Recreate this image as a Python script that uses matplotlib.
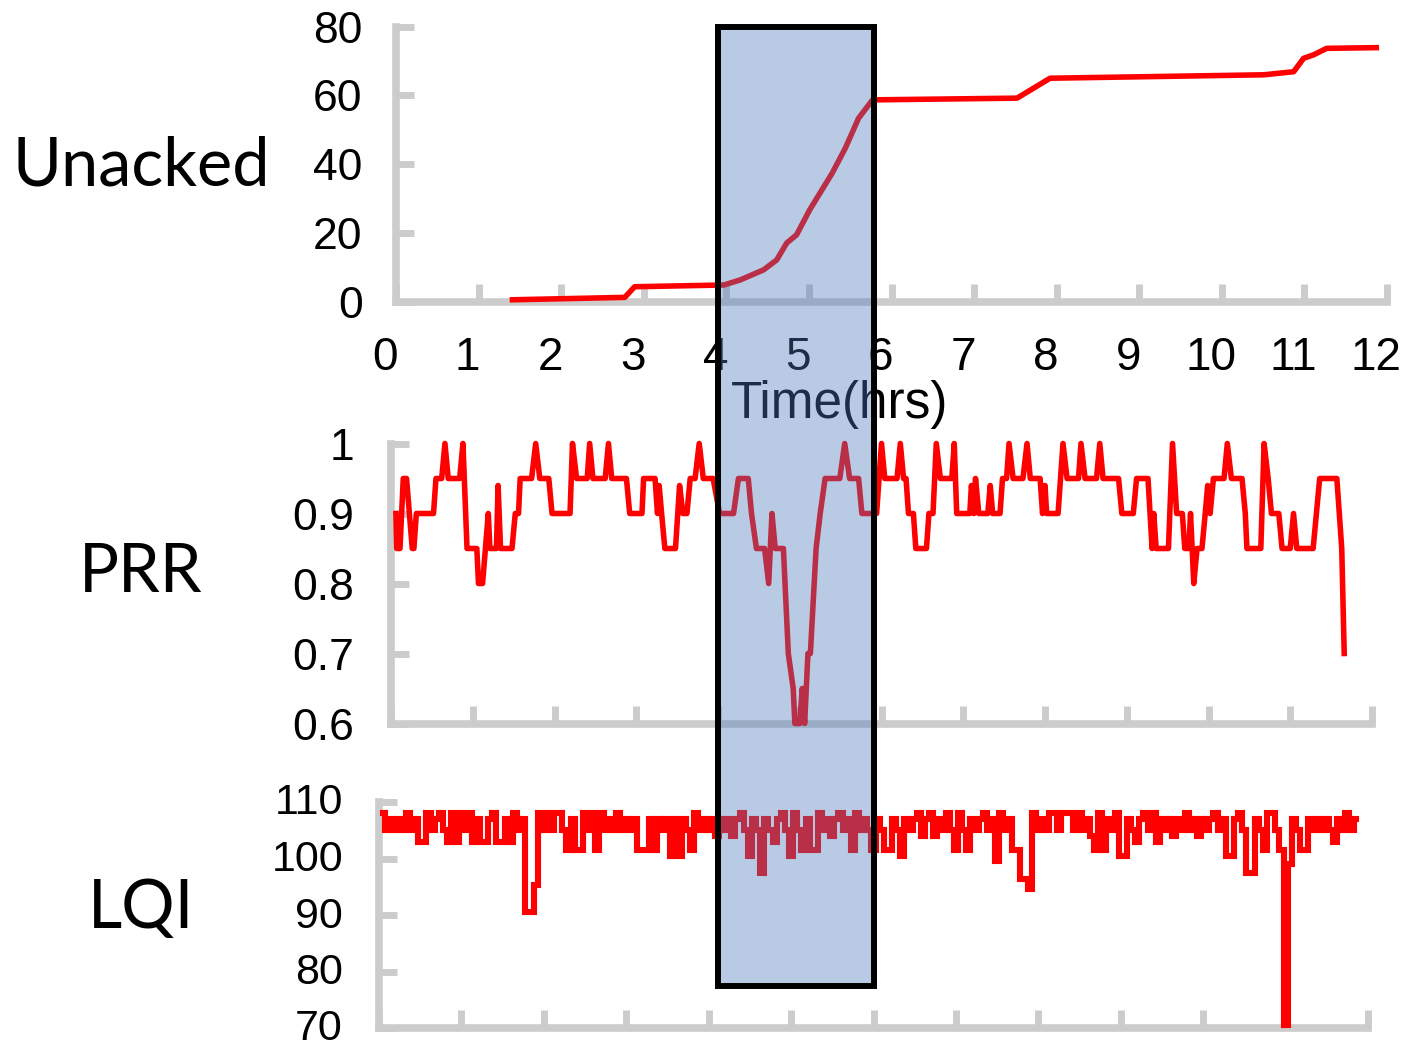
"""
plot.py
-------
Unacked / PRR / LQI over a 12 hour run, with the 4-6 h window boxed.
Writes out.png (1410x1052).
"""

import numpy as np
import matplotlib
matplotlib.use("Agg")
import matplotlib.pyplot as plt
from matplotlib.patches import Rectangle
from matplotlib.transforms import ScaledTranslation

# --- data ---------------------------------------------------------------
hours = list(range(13))

unacked_t = [1.41, 2.77, 2.89, 3.97, 4.17, 4.45, 4.61, 4.73, 4.85, 5.01, 5.28,
             5.44, 5.60, 5.77, 7.52, 7.92, 10.51, 10.87, 10.99, 11.11, 11.27, 11.87]
unacked_v = [0.5, 1.2, 4.3, 4.8, 6.3, 9.2, 12.1, 17, 19.4, 26.7, 37.3,
             44.6, 53.3, 58.7, 59.2, 65, 66, 66.9, 70.8, 71.8, 73.7, 73.9]
unacked_ticks = [0, 20, 40, 60, 80]

prr_t = [0.06, 0.07, 0.11, 0.15, 0.19, 0.26, 0.28, 0.31, 0.52, 0.55, 0.62, 0.66,
         0.70, 0.84, 0.88, 0.93, 1.05, 1.07, 1.12, 1.19, 1.21, 1.29, 1.31, 1.34,
         1.48, 1.52, 1.56, 1.58, 1.72, 1.77, 1.82, 1.93, 1.97, 2.19, 2.22, 2.27,
         2.40, 2.43, 2.47, 2.62, 2.66, 2.70, 2.88, 2.92, 3.07, 3.09, 3.23, 3.26,
         3.28, 3.31, 3.35, 3.48, 3.53, 3.57, 3.62, 3.66, 3.72, 3.77, 3.82, 3.94,
         4.02, 4.19, 4.25, 4.37, 4.41, 4.47, 4.57, 4.62, 4.66, 4.70, 4.80, 4.82,
         4.84, 4.86, 4.92, 4.94, 5.00, 5.03, 5.06, 5.10, 5.13, 5.20, 5.25, 5.31,
         5.49, 5.55, 5.61, 5.72, 5.76, 5.94, 6.00, 6.04, 6.19, 6.23, 6.27, 6.30,
         6.33, 6.39, 6.42, 6.55, 6.58, 6.63, 6.67, 6.72, 6.86, 6.89, 6.92, 7.08,
         7.10, 7.13, 7.15, 7.19, 7.30, 7.33, 7.36, 7.45, 7.48, 7.53, 7.56, 7.61,
         7.73, 7.78, 7.82, 7.94, 7.97, 8.00, 8.02, 8.16, 8.22, 8.27, 8.41, 8.44,
         8.49, 8.63, 8.67, 8.71, 8.90, 8.94, 9.08, 9.12, 9.26, 9.31, 9.33, 9.36,
         9.51, 9.56, 9.61, 9.68, 9.71, 9.76, 9.78, 9.82, 9.86, 9.92, 9.96, 9.99,
         10.02, 10.06, 10.19, 10.23, 10.28, 10.41, 10.45, 10.47, 10.64, 10.68, 10.73, 10.77,
         10.86, 10.90, 11.00, 11.04, 11.08, 11.28, 11.32, 11.36, 11.57, 11.63, 11.66]
prr_v = [0.90, 0.85, 0.85, 0.95, 0.95, 0.85, 0.85, 0.90, 0.90, 0.95, 0.95, 1.00,
         0.95, 0.95, 1.00, 0.85, 0.85, 0.80, 0.80, 0.90, 0.85, 0.85, 0.94, 0.85,
         0.85, 0.90, 0.90, 0.95, 0.95, 1.00, 0.95, 0.95, 0.90, 0.90, 1.00, 0.95,
         0.95, 1.00, 0.95, 0.95, 1.00, 0.95, 0.95, 0.90, 0.90, 0.95, 0.95, 0.90,
         0.94, 0.90, 0.85, 0.85, 0.94, 0.90, 0.90, 0.95, 0.95, 1.00, 0.95, 0.95,
         0.90, 0.90, 0.95, 0.95, 0.90, 0.85, 0.85, 0.80, 0.90, 0.85, 0.85, 0.80,
         0.75, 0.70, 0.65, 0.60, 0.60, 0.65, 0.60, 0.70, 0.70, 0.85, 0.90, 0.95,
         0.95, 1.00, 0.95, 0.95, 0.90, 0.90, 1.00, 0.95, 0.95, 1.00, 0.95, 0.95,
         0.90, 0.90, 0.85, 0.85, 0.90, 0.90, 1.00, 0.95, 0.95, 1.00, 0.90, 0.90,
         0.94, 0.90, 0.95, 0.90, 0.90, 0.94, 0.90, 0.90, 0.95, 0.95, 1.00, 0.95,
         0.95, 1.00, 0.95, 0.95, 0.90, 0.94, 0.90, 0.90, 1.00, 0.95, 0.95, 1.00,
         0.95, 0.95, 1.00, 0.95, 0.95, 0.90, 0.90, 0.95, 0.95, 0.85, 0.90, 0.85,
         0.85, 1.00, 0.90, 0.90, 0.85, 0.85, 0.90, 0.80, 0.85, 0.85, 0.90, 0.94,
         0.90, 0.95, 0.95, 1.00, 0.95, 0.95, 0.90, 0.85, 0.85, 1.00, 0.95, 0.90,
         0.90, 0.85, 0.85, 0.90, 0.85, 0.85, 0.90, 0.95, 0.95, 0.85, 0.70]
prr_ticks = [0.6, 0.7, 0.8, 0.9, 1.0]
prr_labels = ["0.6", "0.7", "0.8", "0.9", "1"]

# LQI is logged every 3 minutes
LQI_STEP_HRS = 0.05
lqi_v = [108, 105, 107, 105, 107, 105, 108, 105, 107, 103, 103, 108, 105, 107, 108, 105, 103, 108, 103, 108,
         105, 108, 103, 107, 103, 103, 107, 108, 103, 103, 107, 103, 108, 105, 107, 90.5, 90.5, 95.3, 108, 105,
         108, 105, 108, 108, 105, 101.5, 107, 101.5, 101.5, 108, 105, 108, 101.5, 108, 105, 107, 105, 108, 105, 107,
         105, 107, 101.5, 101.5, 101.5, 107, 101.5, 107, 105, 107, 100.5, 107, 100.5, 107, 105, 101.5, 108, 105, 107, 105,
         107, 104, 107, 105, 107, 104, 107, 108, 105, 100.5, 107, 105, 97.4, 107, 105, 103, 107, 108, 105, 100.5,
         108, 105, 101.5, 107, 101.5, 101.5, 108, 105, 107, 104, 107, 108, 105, 107, 101.5, 108, 105, 107, 105, 101.5,
         107, 105, 101.5, 101.5, 107, 105, 100.5, 107, 105, 107, 108, 104, 107, 108, 104, 107, 105, 108, 105, 101.5,
         108, 105, 101.5, 107, 105, 107, 108, 105, 107, 99.5, 108, 105, 107, 101.5, 101.5, 96.3, 96.3, 94.6, 108, 105,
         107, 105, 108, 108, 105, 108, 108, 108, 105, 108, 105, 107, 104, 101.5, 108, 101.5, 107, 105, 108, 100.5,
         100.5, 107, 105, 103, 107, 108, 105, 108, 103, 107, 105, 107, 104, 107, 105, 108, 105, 107, 104, 107,
         105, 107, 108, 105, 107, 100.5, 100.5, 107, 108, 105, 97.4, 97.4, 107, 105, 101.5, 108, 108, 105, 101.5, 70.5,
         99, 107, 105, 101.5, 101.5, 107, 105, 107, 105, 107, 105, 103, 107, 105, 108, 105, 107]
lqi_ticks = [70, 80, 90, 100, 110]

HIGHLIGHT_HRS = (4, 6)
HIGHLIGHT_LQI_FLOOR = 77.5

# --- styling -------------------------------------------------------------
RED = "#ff0000"
GRAY = "#cccccc"
BOX_FILL = (76 / 255, 123 / 255, 186 / 255, 0.39)

plt.rcParams["font.family"] = ["Liberation Sans", "DejaVu Sans"]
LABEL_FONT = ["Lato", "DejaVu Sans"]

W, H, DPI = 1410, 1052, 100


def px_box(left, right, bottom, top):
    """axes rect from image pixel edges (y measured from the top)."""
    return [left / W, (H - bottom) / H, (right - left) / W, (bottom - top) / H]


def style(ax, ylim, yticks, ypad, ysize=32):
    ax.set_xlim(0, 12)
    ax.set_ylim(*ylim)
    ax.patch.set_visible(False)
    for s in ("top", "right"):
        ax.spines[s].set_visible(False)
    for s in ("left", "bottom"):
        ax.spines[s].set_color(GRAY)
        ax.spines[s].set_linewidth(5.5)
        ax.spines[s].set_capstyle("projecting")
    ax.set_xticks(hours)
    ax.set_yticks(yticks)
    ax.tick_params(direction="in", length=13, width=5, color=GRAY)
    ax.tick_params(axis="y", labelsize=ysize, pad=ypad)


fig = plt.figure(figsize=(W / DPI, H / DPI), dpi=DPI)

ax_un = fig.add_axes(px_box(396, 1387, 301.5, 26.7))
ax_prr = fig.add_axes(px_box(391, 1372, 723.5, 443.5))
ax_lqi = fig.add_axes(px_box(379, 1368, 1028, 802))

# Unacked
style(ax_un, (0, 80), unacked_ticks, 24)
ax_un.plot(unacked_t, unacked_v, color=RED, lw=4.0, zorder=3, clip_on=False)
ax_un.tick_params(axis="x", labelsize=33, pad=25)
shift = ScaledTranslation(-11 / DPI, 0, fig.dpi_scale_trans)
for lab in ax_un.get_xticklabels():
    lab.set_transform(lab.get_transform() + shift)

# PRR
style(ax_prr, (0.6, 1.0), prr_ticks, 26.5)
ax_prr.set_yticklabels(prr_labels)
ax_prr.tick_params(axis="x", labelbottom=False)
ax_prr.plot(prr_t, prr_v, color=RED, lw=4.0, zorder=3, clip_on=False)

# LQI
style(ax_lqi, (70, 110), lqi_ticks, 26, ysize=31)
ax_lqi.tick_params(axis="x", labelbottom=False)
lift = ScaledTranslation(0, 3 / DPI, fig.dpi_scale_trans)
for lab in ax_lqi.get_yticklabels():
    lab.set_transform(lab.get_transform() + lift)
lqi_t = LQI_STEP_HRS * np.arange(1, len(lqi_v) + 1)
ax_lqi.plot(lqi_t, lqi_v, color=RED, lw=4.4, zorder=3, clip_on=False,
            drawstyle="steps-mid", solid_joinstyle="miter")

# row names and x label
fig.text(141 / W, (H - 186) / H, "Unacked", family=LABEL_FONT, fontsize=48,
         ha="center", va="baseline")
fig.text(141 / W, (H - 592) / H, "PRR", family=LABEL_FONT, fontsize=48,
         ha="center", va="baseline")
fig.text(141 / W, (H - 928) / H, "LQI", family=LABEL_FONT, fontsize=48,
         ha="center", va="baseline")
fig.text(840 / W, (H - 418) / H, "Time(hrs)", fontsize=37,
         ha="center", va="baseline")

# highlight box over the 4-6 h window, spanning all three panels
x0 = ax_prr.transData.transform((HIGHLIGHT_HRS[0], 1.0))[0]
x1 = ax_lqi.transData.transform((HIGHLIGHT_HRS[1], 100))[0]
y_top = ax_un.transData.transform((0, unacked_ticks[-1]))[1]
y_bot = ax_lqi.transData.transform((0, HIGHLIGHT_LQI_FLOOR))[1]
(fx0, fy0), (fx1, fy1) = fig.transFigure.inverted().transform([(x0, y_bot), (x1, y_top)])
box = Rectangle((fx0, fy0), fx1 - fx0, fy1 - fy0, transform=fig.transFigure,
                facecolor=BOX_FILL, edgecolor="black", lw=4.3, zorder=10)
fig.add_artist(box)

fig.savefig("out.png", dpi=DPI)
